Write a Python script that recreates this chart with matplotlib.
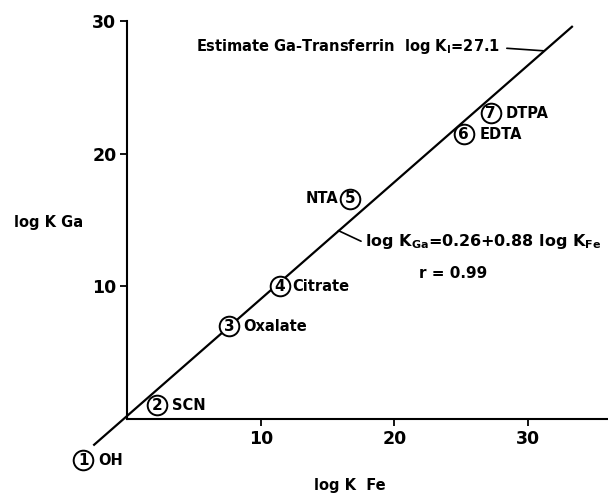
import numpy as np
import matplotlib
matplotlib.use('Agg')
from matplotlib import pyplot as plt

plt.rc('font', family='DejaVu Sans', weight='bold', size=11)
plt.rc('mathtext', fontset='custom', rm='DejaVu Sans:bold', default='rm')

#   Data
nums = ['1', '2', '3', '4', '5', '6', '7']
names = ['OH', 'SCN', 'Oxalate', 'Citrate', 'NTA', 'EDTA', 'DTPA']
log_k_fe = [-3.3, 2.2, 7.6, 11.4, 16.7, 25.2, 27.2]
log_k_ga = [-3.1, 1.05, 7.0, 10.0, 16.6, 21.45, 23.05]

fit_x = [-2.5, 33.3]
intercept = 0.26
slope = 0.88

x_ticks = [10, 20, 30]
y_ticks = [10, 20, 30]

# label offsets (points) for each ligand name
offsets = [(11, 0), (11, 0), (10, 0), (9, 0), (-8.5, 0), (11, 0), (11, 0)]

fig = plt.figure(figsize=(6.08, 4.95), dpi=100)
ax = fig.add_axes([0.2097, 0.1535, 0.7903, 0.8041])
ax.set_xlim(0, 36)
ax.set_ylim(0, 30)
ax.spines['right'].set_visible(False)
ax.spines['top'].set_visible(False)
ax.spines['left'].set_linewidth(1.5)
ax.spines['bottom'].set_linewidth(1.5)
ax.set_xticks(x_ticks)
ax.set_yticks(y_ticks)
ax.tick_params(direction='out', length=5, width=1.3, labelsize=12.5, pad=3)

# regression line
fx = np.array(fit_x)
ax.plot(fx, intercept + slope * fx, color='black', lw=1.6, clip_on=False, zorder=2)

# numbered circles
ax.scatter(log_k_fe, log_k_ga, s=200, facecolors='white', edgecolors='black',
           linewidths=1.4, clip_on=False, zorder=3)
for n, name, x, y, off in zip(nums, names, log_k_fe, log_k_ga, offsets):
    ax.text(x, y, n, ha='center', va='center', fontsize=11, zorder=4, clip_on=False)
    ax.annotate(name, (x, y), xytext=off, textcoords='offset points',
                ha='left' if off[0] > 0 else 'right', va='center',
                fontsize=10.5, annotation_clip=False)

# annotations
ax.annotate(r'Estimate Ga-Transferrin  log K$_{\mathrm{I}}$=27.1', xy=(31.2, 27.75),
            xytext=(27.9, 28.05), ha='right', va='center', fontsize=10.5,
            arrowprops=dict(arrowstyle='-', color='black', lw=1.2,
                            relpos=(1, 0.45), shrinkA=3, shrinkB=0))
ax.annotate(r'log K$_{\mathrm{Ga}}$=0.26+0.88 log K$_{\mathrm{Fe}}$', xy=(15.8, 14.2),
            xytext=(17.8, 13.4), ha='left', va='center', fontsize=11.5,
            annotation_clip=False,
            arrowprops=dict(arrowstyle='-', color='black', lw=1.2,
                            relpos=(0, 0.4), shrinkA=1, shrinkB=0))
ax.text(24.4, 11.0, 'r = 0.99', ha='center', va='center', fontsize=11)

fig.text(0.08, 0.55, 'log K Ga', ha='center', va='center', fontsize=10.5)
fig.text(0.575, 0.02, 'log K  Fe', ha='center', va='center', fontsize=10.5)

fig.savefig('out.png', dpi=100)
